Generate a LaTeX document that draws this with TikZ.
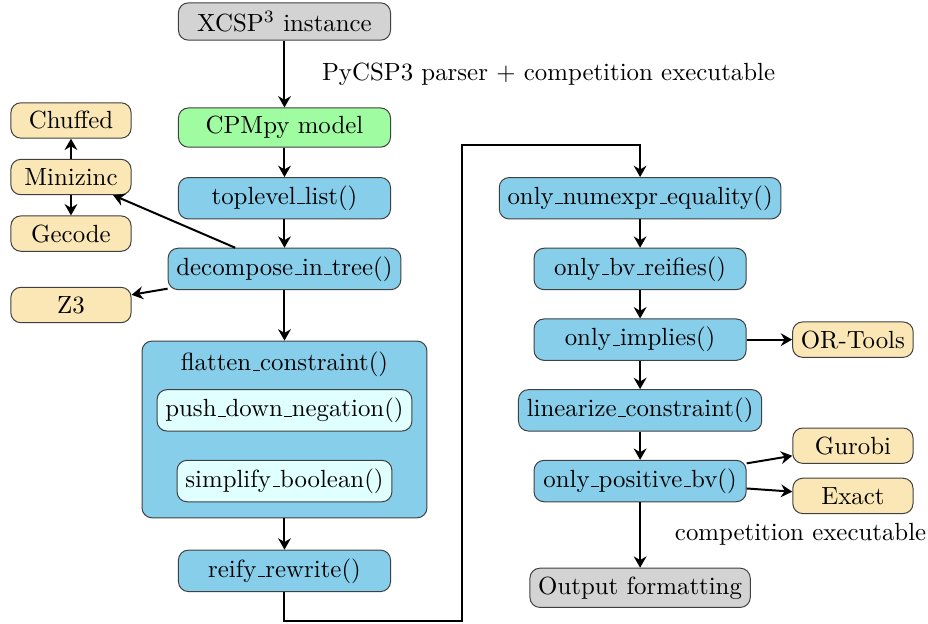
\documentclass[tikz,border=0pt]{standalone}
\usepackage{tikz}
\usetikzlibrary{positioning}
\usetikzlibrary{arrows.meta}

\definecolor{stepblue}{RGB}{135,206,235}
\definecolor{subcyan}{RGB}{224,255,255}
\definecolor{modelgreen}{RGB}{160,252,160}
\definecolor{solveryellow}{RGB}{250,231,181}
\definecolor{iogray}{RGB}{211,211,211}

% short low underscore, as in the old text fonts
\newcommand{\usc}{\leavevmode\kern.06em\vbox{\hrule width .3em}}

\tikzset{
	box/.style={draw=black!75, rounded corners=4pt, minimum height=0.5cm},
	stepbox/.style={box, fill=stepblue, minimum width=3cm},
	subbox/.style={box, fill=subcyan},
	iobox/.style={box, fill=iogray, minimum width=3cm},
	modelbox/.style={box, fill=modelgreen, minimum width=3cm},
	solverbox/.style={box, fill=solveryellow, minimum width=1.7cm},
	arr/.style={thick, -{Stealth[length=1.6mm, width=1.8mm]}},
}

\begin{document}
\begin{tikzpicture}[on grid]
	\useasboundingbox (-4.024,0.304) rectangle (9.102,-8.522);
	%% left column
	\node[iobox] (xcsp) at (0,0) {XCSP$^3$ instance};
	\node[modelbox, below =1.5cm of xcsp] (cpmpy) {CPMpy model};
	\node[stepbox, below =1cm of cpmpy] (toplevel) {toplevel\usc list()};
	\node[stepbox, below =1cm of toplevel] (decompose) {decompose\usc in\usc tree()};
	\node[stepbox, minimum width=4.03cm, minimum height=2.5cm, below =2.27cm of decompose] (flatten) {};
	\node[anchor=north, yshift=-0.04cm] (flattentitle) at (flatten.north) {flatten\usc constraint()};
	\node[subbox, below =2cm of decompose] (pushdown) {push\usc down\usc negation()};
	\node[subbox, below =1cm of pushdown] (simplify) {simplify\usc boolean()};
	\node[stepbox, below =2cm of flatten] (reify) {reify\usc rewrite()};
	%% solvers on the left
	\node[solverbox, above left =1.3cm and 3.02cm of decompose] (minizinc) {Minizinc};
	\node[solverbox, above =0.8cm of minizinc] (chuffed) {Chuffed};
	\node[solverbox, below =0.8cm of minizinc] (gecode) {Gecode};
	\node[solverbox, below left =0.51cm and 3.02cm of decompose] (z3) {Z3};
	%% right column
	\node[stepbox, right =5.03cm of toplevel] (numexpr) {only\usc numexpr\usc equality()};
	\node[stepbox, below =1cm of numexpr] (bvreifies) {only\usc bv\usc reifies()};
	\node[stepbox, below =1cm of bvreifies] (implies) {only\usc implies()};
	\node[stepbox, below =1cm of implies] (linearize) {linearize\usc constraint()};
	\node[stepbox, below =1cm of linearize] (positive) {only\usc positive\usc bv()};
	\node[iobox, below =1.51cm of positive] (output) {Output formatting};
	%% solvers on the right
	\node[solverbox, right =3.01cm of implies] (ortools) {OR-Tools};
	\node[solverbox, above right =0.5cm and 3.01cm of positive] (gurobi) {Gurobi};
	\node[solverbox, below right =0.21cm and 3.01cm of positive] (exact) {Exact};
	\node[below left =0.55cm and 0.74cm of exact] (compexec) {competition executable};
	% connectors
	\draw[arr] (xcsp) -- (cpmpy) node[midway, right=0.4cm] (parser) {PyCSP3 parser + competition executable};
	\draw[arr] (cpmpy) -- (toplevel);
	\draw[arr] (toplevel) -- (decompose);
	\draw[arr] (decompose) -- (flatten);
	\draw[arr] (flatten) -- (reify);
	\draw[arr] (decompose) -- (minizinc);
	\draw[arr] (decompose) -- (z3);
	\draw[arr] (minizinc) -- (chuffed);
	\draw[arr] (minizinc) -- (gecode);
	\draw[arr] (reify.south) -- ++(0,-0.41) -- ++(2.51,0) |- ([yshift=0.45cm]numexpr.north) -- (numexpr.north);
	\draw[arr] (numexpr) -- (bvreifies);
	\draw[arr] (bvreifies) -- (implies);
	\draw[arr] (implies) -- (linearize);
	\draw[arr] (linearize) -- (positive);
	\draw[arr] (positive) -- (output);
	\draw[arr] (implies) -- (ortools);
	\draw[arr] (positive) -- (gurobi);
	\draw[arr] (positive) -- (exact);
\end{tikzpicture}
\end{document}
